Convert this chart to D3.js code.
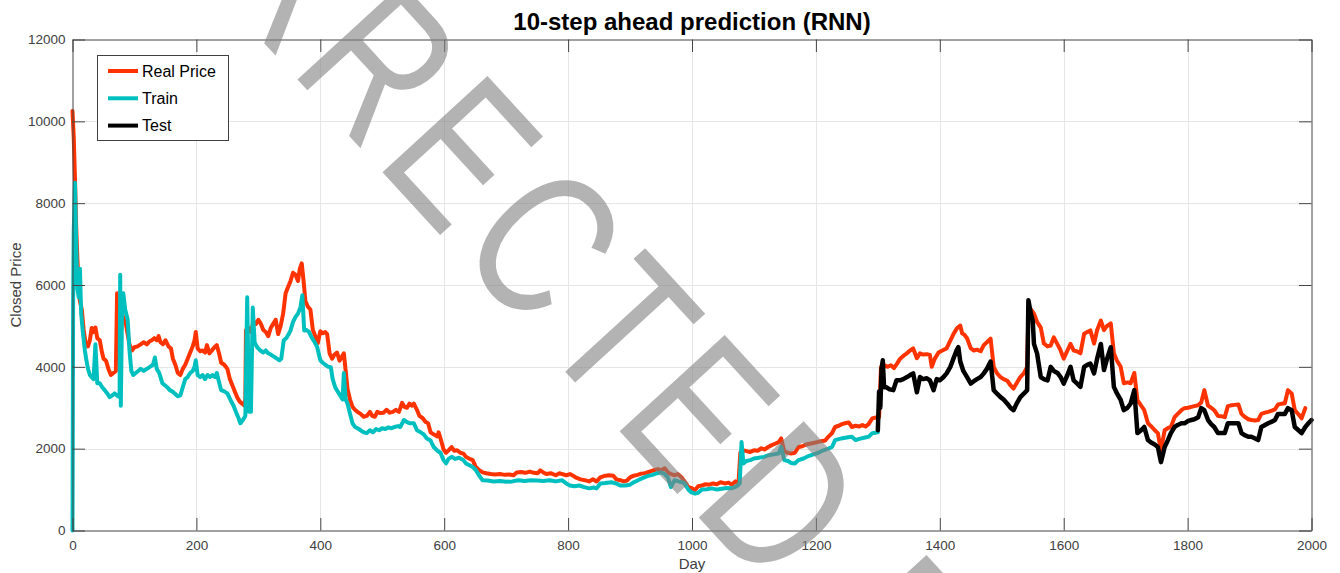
<!DOCTYPE html>
<html>
<head>
<meta charset="utf-8">
<script src="https://cdn.jsdelivr.net/npm/d3@7"></script>
<style>
  body { margin: 0; background: #fff; }
  text { font-family: "Liberation Sans", Arial, sans-serif; }
</style>
</head>
<body>
<div id="chart"></div>
<script>
// values (day, closed price)
const realDays = [0,2,4,6,8,10,12,15,18,21,25,28,31,34,37,40,44,47,50,54,58,62,66,70,72,75,78,82,86,89,92,96,100,105,110,115,120,124,128,132,136,139,142,146,150,155,159,162,166,170,174,178,182,186,190,194,197,199,202,206,210,214,217,221,225,229,233,237,240,245,250,254,258,262,266,270,274,277,279,280,284,288,292,296,300,304,308,312,316,320,324,328,332,336,340,344,348,352,356,360,364,367,370,373,376,380,384,388,392,396,400,404,408,411,415,419,423,427,431,435,438,441,444,448,452,456,460,465,470,475,480,484,488,492,497,502,507,512,517,522,527,532,536,540,544,548,551,556,560,565,570,574,578,583,589,591,595,599,603,607,612,616,621,626,631,635,640,646,651,656,662,668,675,682,690,698,705,712,717,724,731,738,745,751,755,760,765,772,780,786,790,797,803,808,813,820,827,834,840,846,852,858,866,873,878,884,890,895,900,906,912,918,924,930,934,940,945,950,956,961,966,972,977,983,988,994,999,1005,1010,1016,1022,1028,1034,1040,1046,1053,1059,1064,1070,1075,1078,1082,1088,1094,1100,1106,1112,1117,1123,1128,1134,1140,1144,1149,1155,1160,1166,1172,1178,1184,1190,1196,1202,1208,1215,1220,1226,1231,1237,1242,1247,1253,1258,1264,1270,1275,1280,1285,1291,1297,1302,1305,1310,1316,1321,1326,1331,1336,1342,1347,1352,1357,1363,1368,1373,1379,1384,1387,1392,1398,1404,1411,1417,1422,1428,1433,1436,1440,1444,1450,1455,1460,1466,1471,1476,1482,1487,1492,1498,1503,1509,1514,1519,1524,1530,1536,1541,1543,1547,1552,1557,1563,1568,1574,1579,1584,1590,1595,1600,1606,1611,1616,1621,1627,1633,1638,1643,1649,1654,1660,1665,1670,1676,1681,1686,1692,1697,1703,1708,1714,1719,1725,1730,1736,1741,1747,1752,1757,1763,1768,1773,1779,1784,1790,1795,1801,1806,1811,1817,1822,1827,1833,1838,1843,1849,1855,1860,1865,1871,1876,1882,1887,1892,1898,1903,1909,1914,1919,1925,1930,1936,1941,1946,1952,1957,1962,1968,1973,1979,1984,1990];
const realPrice = [10250,9600,8600,7400,6600,6000,5600,5400,4900,4600,4500,4650,4950,4850,4960,4700,4650,4400,4200,4150,3950,3800,3850,3900,5800,5700,5400,5200,5060,4800,4550,4400,4480,4500,4550,4600,4550,4620,4650,4700,4650,4750,4600,4550,4650,4500,4450,4200,4050,3850,3800,3950,4050,4200,4350,4500,4650,4850,4450,4380,4400,4350,4530,4330,4400,4480,4530,4300,4100,4050,3950,3700,3550,3400,3250,3150,3100,3060,3200,4900,4950,4850,5100,5050,5150,5050,4900,4850,4750,4950,5050,5150,4800,5000,5300,5800,5950,6100,6300,6250,6100,6400,6530,6100,5600,5470,5400,4900,4750,4580,4870,4820,4850,4800,4330,4200,4300,4350,4150,4250,4330,3900,3450,3200,3020,2950,2900,2850,2780,2800,2900,2800,2780,2900,2870,2880,2950,2880,2900,2950,2900,3120,3020,3000,3100,3050,3100,2950,2800,2750,2650,2620,2400,2350,2300,2400,2200,1980,1900,1960,2040,1950,1960,1900,1880,1800,1760,1720,1550,1480,1420,1400,1380,1370,1380,1360,1370,1350,1420,1430,1410,1440,1410,1400,1470,1420,1380,1400,1350,1400,1380,1350,1380,1340,1290,1250,1230,1200,1250,1200,1300,1330,1350,1340,1250,1230,1200,1220,1300,1340,1360,1390,1400,1430,1450,1480,1500,1470,1520,1420,1380,1350,1380,1300,1200,1060,1040,990,1080,1100,1130,1120,1150,1130,1180,1150,1170,1120,1200,1150,1900,1960,1940,1920,1960,1950,2010,1980,2040,2080,2120,2160,2250,1930,1900,1880,1900,2040,2060,2100,2120,2140,2160,2180,2200,2290,2380,2530,2560,2600,2620,2640,2530,2560,2540,2580,2540,2600,2740,2760,2770,3990,4040,4000,4040,3970,4080,4200,4280,4330,4400,4450,4210,4330,4300,4310,4290,4000,4200,4350,4400,4450,4640,4800,4950,5010,4820,4780,4700,4450,4400,4420,4380,4530,4600,4690,4000,3850,3750,3700,3660,3550,3470,3600,3750,3850,4000,5300,5400,5300,5100,4960,4570,4500,4520,4720,4550,4400,4200,4400,4560,4400,4380,4330,4810,4850,4890,4570,4900,5130,4900,5000,5060,4330,4150,4000,3600,3620,3600,3850,3190,3050,2940,2620,2550,2450,2380,1960,2450,2500,2530,2770,2850,2940,2990,3000,3020,3040,3060,3130,3430,3050,3000,2940,2800,2790,2770,3040,3060,3070,3080,2850,2780,2720,2700,2690,2700,2850,2880,2900,2930,2960,3080,3100,3110,3430,3350,2940,2840,2740,2990];

const trainDays = [0,1,2,4,6,8,10,12,14,17,20,22,25,28,31,34,37,40,44,48,52,56,60,64,68,72,76,77,78,80,82,85,89,92,95,98,102,106,110,115,120,125,130,133,136,140,145,149,153,157,161,165,170,174,178,182,186,190,194,197,199,202,206,210,214,218,222,226,230,233,237,240,245,250,255,260,265,268,271,275,279,282,285,288,291,294,298,303,308,312,316,320,325,330,334,337,341,345,349,352,356,360,364,368,371,374,378,382,386,391,395,400,404,408,413,417,420,424,428,432,436,438,441,444,448,452,456,460,465,470,475,480,485,490,495,500,505,510,515,520,525,529,535,540,545,551,556,562,567,572,578,583,589,594,599,603,607,612,618,624,631,635,640,646,651,656,662,670,680,690,700,710,720,730,740,750,760,770,780,790,797,803,810,818,826,834,842,846,852,860,870,878,884,892,900,906,912,920,928,936,944,950,956,961,966,972,978,983,988,994,999,1005,1010,1016,1024,1032,1040,1048,1056,1064,1069,1074,1077,1080,1083,1088,1094,1100,1108,1116,1124,1132,1140,1144,1149,1155,1160,1166,1172,1180,1188,1196,1204,1212,1220,1226,1231,1238,1245,1252,1258,1264,1270,1276,1285,1291,1296,1300];
const trainPrice = [0,5500,7300,8500,7000,5900,5700,6400,5300,4800,4400,4200,3950,3800,3750,3700,4550,3600,3600,3500,3430,3350,3260,3300,3350,3300,3260,6250,3050,5400,5800,5400,5160,4400,3900,3800,3850,3900,3950,3900,3950,4000,4050,4230,3950,3850,3600,3550,3500,3430,3400,3350,3280,3300,3500,3700,3750,3850,3900,4000,4160,3800,3750,3800,3700,3800,3750,3800,3750,3850,3600,3430,3400,3350,3190,3050,2850,2750,2620,2700,2800,5700,2900,2900,5450,4600,4480,4400,4350,4400,4330,4300,4250,4200,4160,4200,4650,4700,4800,4890,5100,5220,5300,5460,5750,4890,4900,4850,4720,4600,4480,4160,4100,4050,4000,3990,3700,3500,3400,3300,3200,3850,3200,3100,2850,2620,2530,2500,2450,2400,2380,2450,2400,2480,2450,2500,2480,2520,2500,2530,2550,2530,2700,2650,2620,2620,2450,2400,2350,2250,2200,2040,1950,1900,1720,1640,1750,1800,1750,1780,1720,1640,1600,1550,1480,1350,1230,1220,1200,1210,1190,1200,1230,1210,1230,1220,1210,1230,1200,1230,1150,1100,1080,1100,1060,1030,1050,1030,1150,1160,1180,1150,1100,1100,1120,1180,1220,1280,1330,1360,1400,1420,1380,1300,1060,1230,1200,1180,1150,1000,930,900,920,1000,1010,1030,1000,1020,1040,1030,1060,1100,1150,2160,1640,1700,1720,1760,1780,1800,1840,1860,1880,2040,1720,1700,1650,1640,1720,1760,1820,1860,1900,1960,2000,2040,2210,2240,2260,2280,2290,2210,2240,2260,2290,2380,2390,2400];

const testDays = [1300,1302,1304,1306,1308,1310,1314,1319,1325,1330,1336,1341,1347,1352,1357,1363,1368,1373,1379,1384,1390,1395,1400,1406,1411,1417,1422,1427,1430,1433,1438,1444,1450,1455,1460,1466,1471,1476,1482,1487,1492,1498,1503,1509,1514,1519,1524,1530,1536,1541,1543,1547,1550,1552,1557,1563,1568,1574,1579,1584,1590,1595,1600,1606,1611,1616,1621,1627,1633,1638,1643,1649,1654,1660,1665,1670,1676,1681,1686,1692,1697,1703,1708,1714,1719,1725,1730,1736,1741,1747,1752,1757,1763,1768,1773,1779,1784,1790,1795,1801,1806,1811,1817,1822,1827,1833,1838,1843,1849,1855,1860,1865,1871,1876,1882,1887,1892,1898,1903,1909,1914,1919,1925,1930,1936,1941,1946,1952,1957,1962,1968,1973,1979,1984,1990,1995,2000];
const testPrice = [2450,3400,3000,3950,4160,3500,3500,3450,3430,3670,3670,3700,3750,3800,3840,3380,3750,3700,3720,3670,3430,3700,3670,3750,3840,4000,4200,4400,4480,4130,3900,3750,3590,3650,3700,3750,3840,3950,4130,3430,3350,3260,3200,3100,3000,2940,3100,3260,3350,3430,5630,5300,5130,4560,4330,3750,3700,3670,4000,3900,3850,3750,3590,3800,4000,3670,3600,3510,4000,4050,4080,3840,4200,4560,3920,4200,4480,3510,3350,3190,2940,3000,3100,3430,2380,2450,2530,2210,2150,2100,2040,1670,2040,2200,2380,2530,2580,2620,2620,2680,2700,2720,2770,2990,2940,2700,2600,2530,2380,2380,2380,2620,2620,2620,2620,2380,2330,2290,2290,2250,2210,2530,2580,2620,2660,2700,2850,2850,2850,2990,2940,2530,2450,2380,2530,2620,2700];

const xTicks = [0,200,400,600,800,1000,1200,1400,1600,1800,2000];
const yTicks = [0,2000,4000,6000,8000,10000,12000];

const series = [
    { name: "Real Price", days: realDays, values: realPrice, color: "#ff3300", width: 4 },
    { name: "Train", days: trainDays, values: trainPrice, color: "#00bfbf", width: 4 },
    { name: "Test", days: testDays, values: testPrice, color: "#000000", width: 4.5 }
];

const W = 1340, H = 573;
const plotL = 72.5, plotR = 1311.5, plotT = 39.5, plotB = 530.5;
const axisColor = "#454545";

const svg = d3.select("#chart").append("svg")
    .attr("width", W)
    .attr("height", H);

svg.append("rect").attr("width", W).attr("height", H).attr("fill", "#fff");

const x = d3.scaleLinear().domain([0, 2000]).range([plotL, plotR]);
const y = d3.scaleLinear().domain([0, 12000]).range([plotB, plotT]);

// grid
svg.append("g").selectAll("line")
    .data(xTicks.slice(1, -1))
    .enter().append("line")
    .attr("x1", d => Math.round(x(d)) + 0.5).attr("x2", d => Math.round(x(d)) + 0.5)
    .attr("y1", plotT).attr("y2", plotB)
    .attr("stroke", "#e6e6e6");

svg.append("g").selectAll("line")
    .data(yTicks.slice(1, -1))
    .enter().append("line")
    .attr("y1", d => Math.round(y(d)) + 0.5).attr("y2", d => Math.round(y(d)) + 0.5)
    .attr("x1", plotL).attr("x2", plotR)
    .attr("stroke", "#e6e6e6");

// lines
const line = d3.line()
    .x(d => x(d[0]))
    .y(d => y(d[1]));

series.forEach(s => {
    svg.append("path")
        .datum(s.days.map((d, i) => [d, s.values[i]]))
        .attr("fill", "none")
        .attr("stroke", s.color)
        .attr("stroke-width", s.width)
        .attr("stroke-linejoin", "round")
        .attr("stroke-linecap", "round")
        .attr("d", line);
});

// axes, ticks inside on all four sides
function styleAxis(g) {
    g.select(".domain").attr("stroke", axisColor);
    g.selectAll(".tick line").attr("stroke", axisColor);
    g.selectAll(".tick text")
        .attr("fill", "#404040")
        .style("font-size", "13.5px")
        .style("font-family", "'Liberation Sans', Arial, sans-serif");
}

const fmt = d3.format("d");

svg.append("g")
    .attr("transform", `translate(0,${plotB})`)
    .call(d3.axisBottom(x).tickValues(xTicks).tickFormat(fmt).tickSize(-12.5).tickSizeOuter(0).tickPadding(9.5))
    .call(styleAxis);

svg.append("g")
    .attr("transform", `translate(0,${plotT})`)
    .call(d3.axisTop(x).tickValues(xTicks).tickSize(-12.5).tickSizeOuter(0).tickFormat(""))
    .call(styleAxis);

svg.append("g")
    .attr("transform", `translate(${plotL},0)`)
    .call(d3.axisLeft(y).tickValues(yTicks).tickFormat(fmt).tickSize(-12.5).tickSizeOuter(0).tickPadding(7))
    .call(styleAxis);

svg.append("g")
    .attr("transform", `translate(${plotR},0)`)
    .call(d3.axisRight(y).tickValues(yTicks).tickSize(-12.5).tickSizeOuter(0).tickFormat(""))
    .call(styleAxis);

// labels
svg.append("text")
    .attr("x", (plotL + plotR) / 2).attr("y", 30)
    .attr("text-anchor", "middle")
    .style("font-size", "24px").style("font-weight", "bold")
    .attr("fill", "#000")
    .text("10-step ahead prediction (RNN)");

svg.append("text")
    .attr("x", (plotL + plotR) / 2).attr("y", 569)
    .attr("text-anchor", "middle")
    .style("font-size", "15px")
    .attr("fill", "#404040")
    .text("Day");

svg.append("text")
    .attr("transform", `translate(21,${(plotT + plotB) / 2}) rotate(-90)`)
    .attr("text-anchor", "middle")
    .style("font-size", "15px")
    .attr("fill", "#404040")
    .text("Closed Price");

// legend
const legend = svg.append("g").attr("transform", "translate(97.5,55.5)");
legend.append("rect")
    .attr("width", 131).attr("height", 85)
    .attr("fill", "#fff").attr("stroke", "#404040");

series.forEach((s, i) => {
    const ly = 15.5 + i * 27.3;
    legend.append("line")
        .attr("x1", 10.5).attr("x2", 40.5)
        .attr("y1", ly).attr("y2", ly)
        .attr("stroke", s.color).attr("stroke-width", 4);
    legend.append("text")
        .attr("x", 44.5).attr("y", ly).attr("dy", "0.36em")
        .style("font-size", "16px")
        .attr("fill", "#000")
        .text(s.name);
});

// watermark over the plot
svg.append("text")
    .attr("transform", "translate(-142,-400) rotate(47.5) scale(0.76,1)")
    .style("font-size", "207px")
    .attr("letter-spacing", 16)
    .attr("fill", "#808080")
    .attr("fill-opacity", 0.6)
    .text("UNCORRECTED PROOF");
</script>
</body>
</html>
